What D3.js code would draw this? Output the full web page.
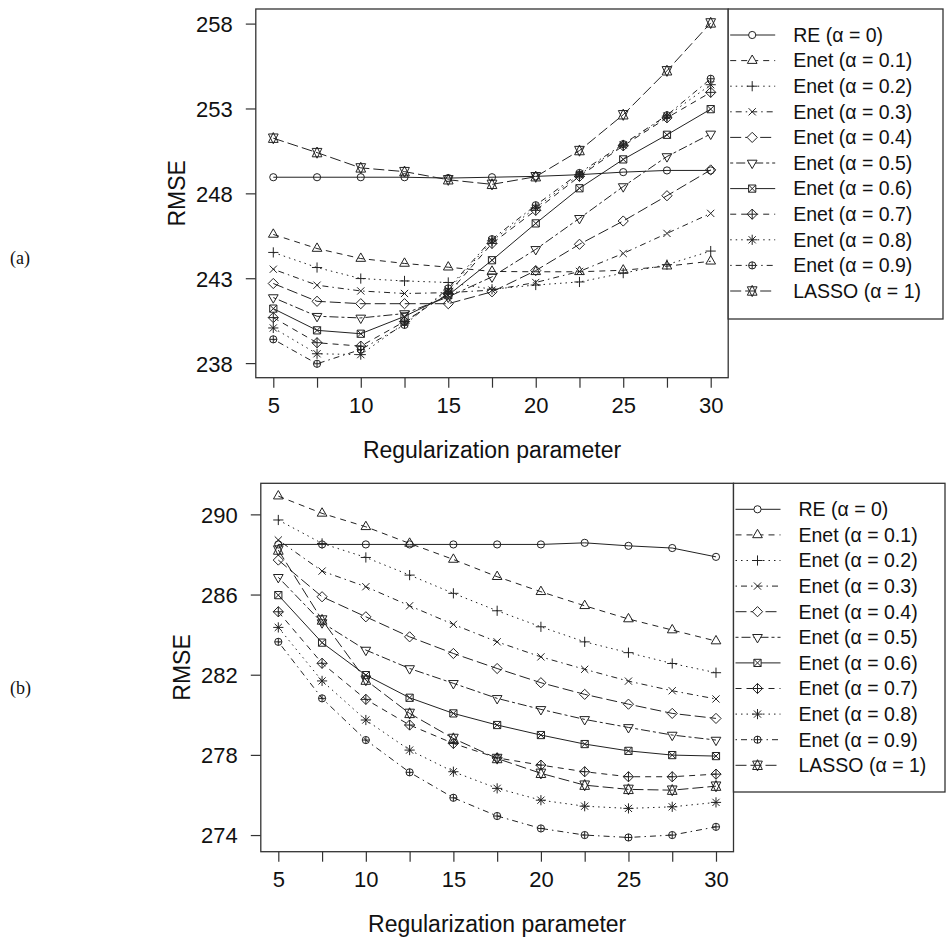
<!DOCTYPE html>
<html>
<head>
<meta charset="utf-8">
<style>
    body { margin: 0; background: #fff; }
    svg { display: block; font-family: "Liberation Sans", Arial, sans-serif; }
    .axis .domain { display: none; }
    .axis .tick line { stroke: #333; stroke-width: 1.2px; }
    .axis .tick text { font-size: 22px; fill: #111; }
    .axis-title { font-size: 23px; fill: #111; }
    .legend text { font-size: 19.5px; fill: #111; }
    .panel-tag { font-family: "Liberation Serif", "Times New Roman", serif; font-size: 18px; fill: #111; }
</style>
</head>
<body>
<svg width="950" height="941"></svg>
<script src="https://d3js.org/d3.v7.min.js"></script>
<script>
// regularization parameter values (x axis)
const lambdas = [5, 7.5, 10, 12.5, 15, 17.5, 20, 22.5, 25, 27.5, 30];
const xTickLabels = [5, 10, 15, 20, 25, 30];

const seriesNames = ["RE (\u03b1 = 0)", "Enet (\u03b1 = 0.1)", "Enet (\u03b1 = 0.2)", "Enet (\u03b1 = 0.3)",
    "Enet (\u03b1 = 0.4)", "Enet (\u03b1 = 0.5)", "Enet (\u03b1 = 0.6)", "Enet (\u03b1 = 0.7)",
    "Enet (\u03b1 = 0.8)", "Enet (\u03b1 = 0.9)", "LASSO (\u03b1 = 1)"];

// panel (a) RMSE
const aRE   = [248.95, 248.95, 248.95, 248.95, 248.9, 248.95, 249.0, 249.1, 249.25, 249.35, 249.35];
const aE01  = [245.58, 244.75, 244.16, 243.87, 243.65, 243.4, 243.38, 243.38, 243.47, 243.71, 244.0];
const aE02  = [244.52, 243.63, 242.98, 242.84, 242.75, 242.35, 242.6, 242.78, 243.3, 243.8, 244.6];
const aE03  = [243.53, 242.59, 242.25, 242.1, 242.15, 242.3, 242.75, 243.4, 244.46, 245.64, 246.82];
const aE04  = [242.69, 241.64, 241.5, 241.5, 241.5, 242.2, 243.45, 245.0, 246.37, 247.86, 249.38];
const aE05  = [241.86, 240.76, 240.66, 240.92, 241.9, 243.08, 244.7, 246.53, 248.4, 250.17, 251.5];
const aE06  = [241.21, 239.93, 239.73, 240.75, 242.0, 244.06, 246.23, 248.3, 250.0, 251.45, 252.96];
const aE07  = [240.68, 239.2, 239.0, 240.45, 242.1, 245.05, 247.0, 249.0, 250.8, 252.45, 253.95];
const aE08  = [240.07, 238.55, 238.5, 240.35, 242.3, 245.2, 247.15, 249.1, 250.85, 252.55, 254.4];
const aE09  = [239.4, 237.96, 238.8, 240.25, 242.4, 245.3, 247.3, 249.2, 250.9, 252.6, 254.75];
const aLAS  = [251.25, 250.4, 249.5, 249.28, 248.8, 248.53, 248.98, 250.52, 252.63, 255.22, 258.04];

// panel (b) RMSE
const bRE   = [288.5, 288.5, 288.5, 288.5, 288.5, 288.5, 288.5, 288.58, 288.43, 288.32, 287.88];
const bE01  = [290.91, 290.05, 289.38, 288.55, 287.75, 286.89, 286.14, 285.44, 284.78, 284.23, 283.68];
const bE02  = [289.72, 288.55, 287.85, 286.97, 286.06, 285.19, 284.39, 283.64, 283.1, 282.56, 282.1];
const bE03  = [288.72, 287.17, 286.39, 285.44, 284.51, 283.64, 282.89, 282.27, 281.68, 281.2, 280.79];
const bE04  = [287.72, 285.89, 284.89, 283.89, 283.06, 282.31, 281.6, 281.02, 280.53, 280.07, 279.82];
const bE05  = [286.86, 284.6, 283.23, 282.31, 281.57, 280.82, 280.27, 279.77, 279.37, 278.99, 278.74];
const bE06  = [285.97, 283.6, 281.98, 280.85, 280.07, 279.49, 278.99, 278.54, 278.2, 277.99, 277.94];
const bE07  = [285.14, 282.57, 280.77, 279.49, 278.57, 277.85, 277.49, 277.16, 276.91, 276.91, 277.04];
const bE08  = [284.36, 281.69, 279.74, 278.24, 277.16, 276.33, 275.74, 275.44, 275.33, 275.41, 275.63];
const bE09  = [283.64, 280.82, 278.74, 277.13, 275.86, 274.95, 274.33, 274.0, 273.88, 274.0, 274.41];
const bLAS  = [288.22, 284.73, 281.73, 280.07, 278.82, 277.82, 277.08, 276.49, 276.28, 276.24, 276.44];

const yTicksA = [238, 243, 248, 253, 258];
const yTicksB = [274, 278, 282, 286, 290];

const seriesA = [aRE, aE01, aE02, aE03, aE04, aE05, aE06, aE07, aE08, aE09, aLAS];
const seriesB = [bRE, bE01, bE02, bE03, bE04, bE05, bE06, bE07, bE08, bE09, bLAS];

// R lty 1..6 cycling
const dashes = [null, "6,5", "1.5,4", "1.5,4,6,4", "11,4", "3,3,9,3"];
const ink = "#222";

let svg = d3.select("svg");

// point shapes, in series order: circle, tri up, plus, cross, diamond, tri down,
// boxed cross, diamond plus, asterisk, circle plus, double triangle
function symbolPath(k, R) {
    const s2 = Math.SQRT2 * R;
    const tr = 1.555 * R, txc = 0.866 * tr, tyc = tr / 2;
    const circle = `M${-R},0a${R},${R} 0 1,0 ${2 * R},0a${R},${R} 0 1,0 ${-2 * R},0`;
    switch (k) {
        case 0: return circle;
        case 1: return `M0,${-tr}L${txc},${tyc}L${-txc},${tyc}Z`;
        case 2: return `M${-s2},0H${s2}M0,${-s2}V${s2}`;
        case 3: return `M${-R},${-R}L${R},${R}M${-R},${R}L${R},${-R}`;
        case 4: return `M0,${-s2}L${s2},0L0,${s2}L${-s2},0Z`;
        case 5: return `M0,${tr}L${txc},${-tyc}L${-txc},${-tyc}Z`;
        case 6: return `M${-R},${-R}H${R}V${R}H${-R}Z` + `M${-R},${-R}L${R},${R}M${-R},${R}L${R},${-R}`;
        case 7: return `M0,${-s2}L${s2},0L0,${s2}L${-s2},0Z` + `M${-s2},0H${s2}M0,${-s2}V${s2}`;
        case 8: return `M${-R},${-R}L${R},${R}M${-R},${R}L${R},${-R}` + `M${-s2},0H${s2}M0,${-s2}V${s2}`;
        case 9: return circle + `M${-R},0H${R}M0,${-R}V${R}`;
        default: {
            const yc = 0.5 * (tyc + tr);
            return `M0,${-tr}L${txc},${yc}L${-txc},${yc}Z` + `M0,${tr}L${txc},${-yc}L${-txc},${-yc}Z`;
        }
    }
}

const panels = [
    { tag: "(a)", series: seriesA, yTicks: yTicksA, yDomain: [237.14, 258.86],
      left: 255.8, right: 728.2, top: 9, bottom: 377.7, legRight: 943, legBottom: 319, tagY: 264 },
    { tag: "(b)", series: seriesB, yTicks: yTicksB, yDomain: [273.17, 291.55],
      left: 260.8, right: 733.5, top: 483.3, bottom: 851.7, legRight: 945, legBottom: 792, tagY: 694 }
];

const symR = 3.6;

panels.forEach(function (p) {
    let x = d3.scaleLinear().domain([4, 31]).range([p.left, p.right]);
    let y = d3.scaleLinear().domain(p.yDomain).range([p.bottom, p.top]);

    let g = svg.append("g");

    // axes
    g.append("g")
        .attr("class", "x axis")
        .attr("transform", `translate(0,${p.bottom})`)
        .call(d3.axisBottom(x)
            .tickValues(lambdas)
            .tickSize(10)
            .tickPadding(10)
            .tickFormat(d => xTickLabels.includes(d) ? d : ""));

    g.append("g")
        .attr("class", "y axis")
        .attr("transform", `translate(${p.left},0)`)
        .call(d3.axisLeft(y)
            .tickValues(p.yTicks)
            .tickSize(10)
            .tickPadding(13))
        .selectAll(".tick text")
        .attr("dy", "0.36em");

    // lines and points
    let line = d3.line()
        .x((d, i) => x(lambdas[i]))
        .y(d => y(d));

    p.series.forEach(function (vals, k) {
        g.append("path")
            .datum(vals)
            .attr("d", line)
            .style("fill", "none")
            .style("stroke", ink)
            .style("stroke-width", "1px")
            .style("stroke-dasharray", dashes[k % 6]);

        g.append("g")
            .selectAll("path")
            .data(vals)
            .join("path")
            .attr("transform", (d, i) => `translate(${x(lambdas[i])},${y(d)})`)
            .attr("d", symbolPath(k, symR))
            .style("fill", "none")
            .style("stroke", ink)
            .style("stroke-width", "1px");
    });

    // plot box
    g.append("rect")
        .attr("x", p.left)
        .attr("y", p.top)
        .attr("width", p.right - p.left)
        .attr("height", p.bottom - p.top)
        .style("fill", "none")
        .style("stroke", "#333")
        .style("stroke-width", "1.3px");

    // titles
    g.append("text")
        .attr("class", "axis-title")
        .attr("x", (p.left + p.right) / 2)
        .attr("y", p.bottom + 80)
        .attr("text-anchor", "middle")
        .text("Regularization parameter");

    g.append("text")
        .attr("class", "axis-title")
        .attr("transform", `translate(${p.left - 71},${(p.top + p.bottom) / 2}) rotate(-90)`)
        .attr("text-anchor", "middle")
        .text("RMSE");

    g.append("text")
        .attr("class", "panel-tag")
        .attr("x", 10)
        .attr("y", p.tagY)
        .text(p.tag);

    // legend
    let leg = g.append("g").attr("class", "legend");
    leg.append("rect")
        .attr("x", p.right)
        .attr("y", p.top)
        .attr("width", p.legRight - p.right)
        .attr("height", p.legBottom - p.top)
        .style("fill", "#fff")
        .style("stroke", "#333")
        .style("stroke-width", "1.3px");

    let rowY = d3.scaleLinear().domain([0, 10]).range([p.top + 26, p.top + 282]);

    seriesNames.forEach(function (name, k) {
        let cy = rowY(k);
        leg.append("line")
            .attr("x1", p.right + 2)
            .attr("x2", p.right + 47)
            .attr("y1", cy)
            .attr("y2", cy)
            .style("stroke", ink)
            .style("stroke-width", "1px")
            .style("stroke-dasharray", dashes[k % 6]);
        leg.append("path")
            .attr("transform", `translate(${p.right + 24},${cy})`)
            .attr("d", symbolPath(k, symR))
            .style("fill", "#fff")
            .style("stroke", ink)
            .style("stroke-width", "1px");
        leg.append("text")
            .attr("x", p.right + 65)
            .attr("y", cy)
            .attr("dy", "0.35em")
            .text(name);
    });
});
</script>
</body>
</html>
